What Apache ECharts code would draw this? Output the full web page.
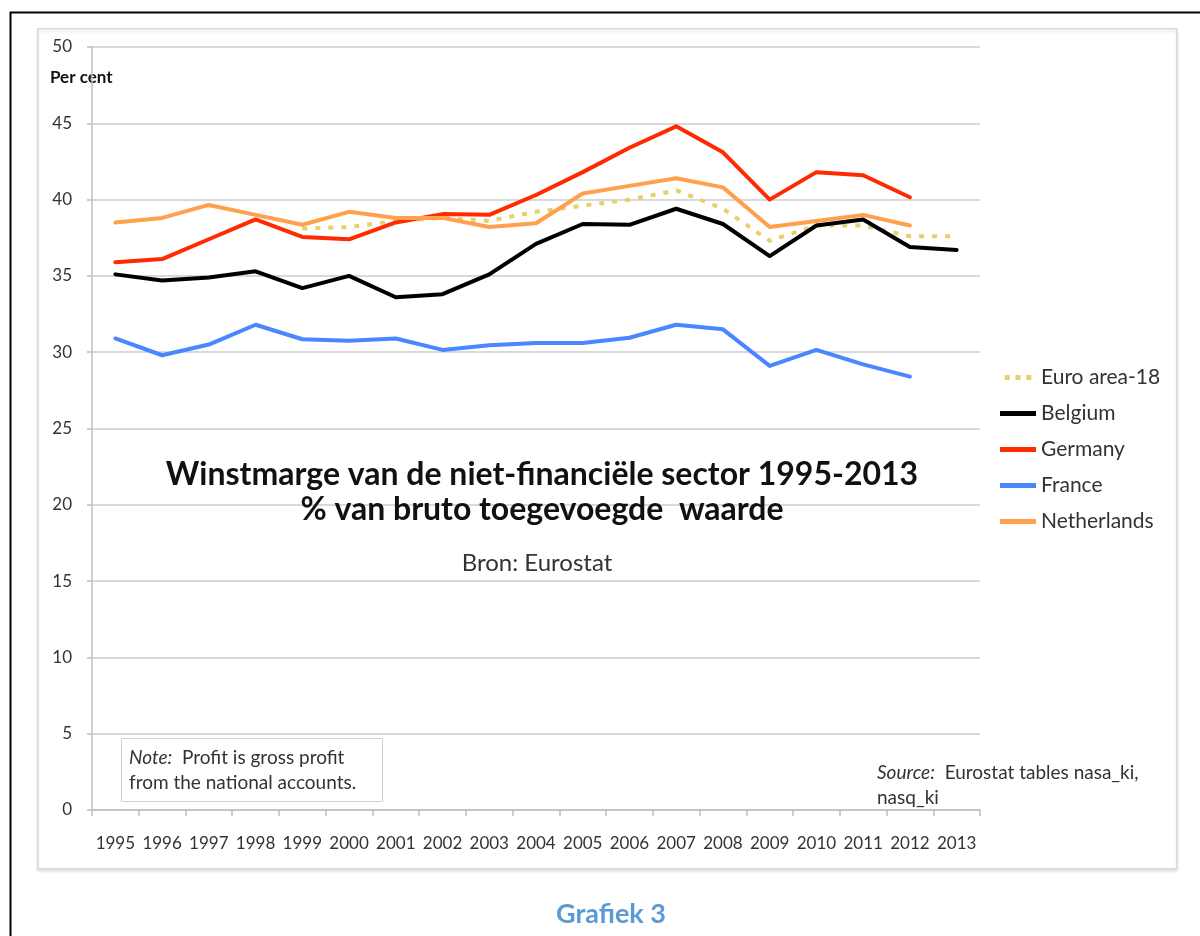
<!DOCTYPE html>
<html>
<head>
<meta charset="utf-8">
<title>Winstmarge niet-financiële sector</title>
<script src="https://cdn.jsdelivr.net/npm/echarts@6/dist/echarts.min.js"></script>
<style>
  html, body { margin: 0; padding: 0; background: #fff; }
  #chart { width: 1200px; height: 936px; }
</style>
</head>
<body>
<div id="chart"></div>
<script>
  // data
  const years = ['1995', '1996', '1997', '1998', '1999', '2000', '2001', '2002', '2003', '2004',
    '2005', '2006', '2007', '2008', '2009', '2010', '2011', '2012', '2013']

  const euroArea = [null, null, null, null, 38.1, 38.2, 38.6, 38.8, 38.6, 39.2,
    39.6, 40.0, 40.6, 39.4, 37.3, 38.3, 38.3, 37.6, 37.6]
  const belgium = [35.1, 34.7, 34.9, 35.3, 34.2, 35.0, 33.6, 33.8, 35.1, 37.1,
    38.4, 38.35, 39.4, 38.4, 36.3, 38.3, 38.7, 36.9, 36.7]
  const germany = [35.9, 36.1, 37.4, 38.7, 37.55, 37.4, 38.5, 39.05, 39.0, 40.3,
    41.8, 43.4, 44.8, 43.1, 40.0, 41.8, 41.6, 40.15, null]
  const france = [30.9, 29.8, 30.5, 31.8, 30.85, 30.75, 30.9, 30.15, 30.45, 30.6,
    30.6, 30.95, 31.8, 31.5, 29.1, 30.15, 29.2, 28.4, null]
  const netherlands = [38.5, 38.8, 39.65, 39.0, 38.35, 39.2, 38.8, 38.8, 38.2, 38.45,
    40.4, 40.9, 41.4, 40.8, 38.2, 38.6, 39.0, 38.3, null]

  const yTicks = [0, 5, 10, 15, 20, 25, 30, 35, 40, 45, 50]

  const font = 'Lato, "Noto Sans", sans-serif'
  const chart = echarts.init(document.getElementById('chart'))

  function lineSeries(name, data, color, dotted) {
    return {
      name: name,
      type: 'line',
      data: data,
      symbol: 'none',
      connectNulls: false,
      z: dotted ? 1 : 2,
      lineStyle: {
        color: color,
        width: 4,
        type: dotted ? [5, 8] : 'solid',
        cap: dotted ? 'butt' : 'round',
        join: 'round'
      },
      itemStyle: {color: color}
    }
  }

  // legend icons: three dots for the dotted series, a flat bar for the others
  const dotsIcon = 'path://M0,0h6v6h-6z M13,0h6v6h-6z M26,0h6v6h-6z'

  chart.setOption({
    animation: false,
    backgroundColor: '#fff',
    textStyle: {fontFamily: font},
    graphic: [
      // outer black frame (runs off the page on the right and bottom)
      {
        type: 'rect', left: 8, top: 10, z: -10,
        shape: {width: 1250, height: 1000},
        style: {fill: 'none', stroke: '#000', lineWidth: 2}
      },
      // chart panel
      {
        type: 'rect', left: 37, top: 28, z: -9,
        shape: {width: 1139, height: 840},
        style: {fill: '#fff', stroke: '#d9d9d9', lineWidth: 1.5,
          shadowColor: 'rgba(0,0,0,0.12)', shadowBlur: 3, shadowOffsetY: 2}
      },
      {
        type: 'text', left: 50, top: 69,
        style: {text: 'Per cent', font: 'bold 17px ' + font, fill: '#111'}
      },
      // note box
      {
        type: 'rect', left: 121, top: 738, z: 5,
        shape: {width: 261, height: 63},
        style: {fill: '#fff', stroke: '#d0d0d0', lineWidth: 1}
      },
      {
        type: 'text', left: 129, top: 745, z: 6,
        style: {
          text: '{i|Note:}  Profit is gross profit\nfrom the national accounts.',
          font: '19px ' + font, fill: '#333', lineHeight: 25,
          rich: {i: {fontStyle: 'italic', fontSize: 19, fontFamily: font, fill: '#333'}}
        }
      },
      {
        type: 'text', left: 877, top: 760, z: 6,
        style: {
          text: '{i|Source:}  Eurostat tables nasa_ki,\nnasq_ki',
          font: '19px ' + font, fill: '#333', lineHeight: 25,
          rich: {i: {fontStyle: 'italic', fontSize: 19, fontFamily: font, fill: '#333'}}
        }
      }
    ],
    title: [
      {
        text: 'Winstmarge van de niet-financiële sector 1995-2013\n% van bruto toegevoegde  waarde',
        left: 537, top: 452, textAlign: 'center',
        textStyle: {fontFamily: font, fontSize: 32, fontWeight: 'bold', color: '#111', lineHeight: 35}
      },
      {
        text: 'Bron: Eurostat',
        left: 532, top: 546, textAlign: 'center',
        textStyle: {fontFamily: font, fontSize: 24, fontWeight: 'normal', color: '#333'}
      },
      {
        text: 'Grafiek 3',
        left: 606, top: 896, textAlign: 'center',
        textStyle: {fontFamily: font, fontSize: 27, fontWeight: 'bold', color: '#5b9bd5'}
      }
    ],
    legend: {
      orient: 'vertical',
      left: 1000,
      top: 367,
      padding: 0,
      itemWidth: 36,
      itemHeight: 5,
      itemGap: 15,
      textStyle: {fontFamily: font, fontSize: 21, color: '#333'},
      data: [
        {name: 'Euro area-18', icon: dotsIcon},
        {name: 'Belgium', icon: 'rect'},
        {name: 'Germany', icon: 'rect'},
        {name: 'France', icon: 'rect'},
        {name: 'Netherlands', icon: 'rect'}
      ]
    },
    grid: {left: 92, right: 220, top: 47, bottom: 126},
    xAxis: {
      type: 'category',
      data: years,
      boundaryGap: true,
      axisLine: {lineStyle: {color: '#bfbfbf', width: 1.5}},
      axisTick: {show: true, length: 6, lineStyle: {color: '#bfbfbf', width: 1.5}},
      axisLabel: {interval: 0, fontFamily: font, fontSize: 17, color: '#333', margin: 25}
    },
    yAxis: {
      type: 'value',
      min: yTicks[0],
      max: yTicks[yTicks.length - 1],
      interval: 5,
      axisLine: {show: true, lineStyle: {color: '#bfbfbf', width: 1.5}},
      axisTick: {show: true, length: 5, lineStyle: {color: '#bfbfbf', width: 1.5}},
      axisLabel: {fontFamily: font, fontSize: 17, color: '#333', margin: 20},
      splitLine: {lineStyle: {color: '#d9d9d9', width: 2}}
    },
    series: [
      lineSeries('Euro area-18', euroArea, '#e6d06a', true),
      lineSeries('Belgium', belgium, '#000000', false),
      lineSeries('Germany', germany, '#ff2a00', false),
      lineSeries('France', france, '#4a86ff', false),
      lineSeries('Netherlands', netherlands, '#ffa04d', false)
    ]
  })
</script>
</body>
</html>
